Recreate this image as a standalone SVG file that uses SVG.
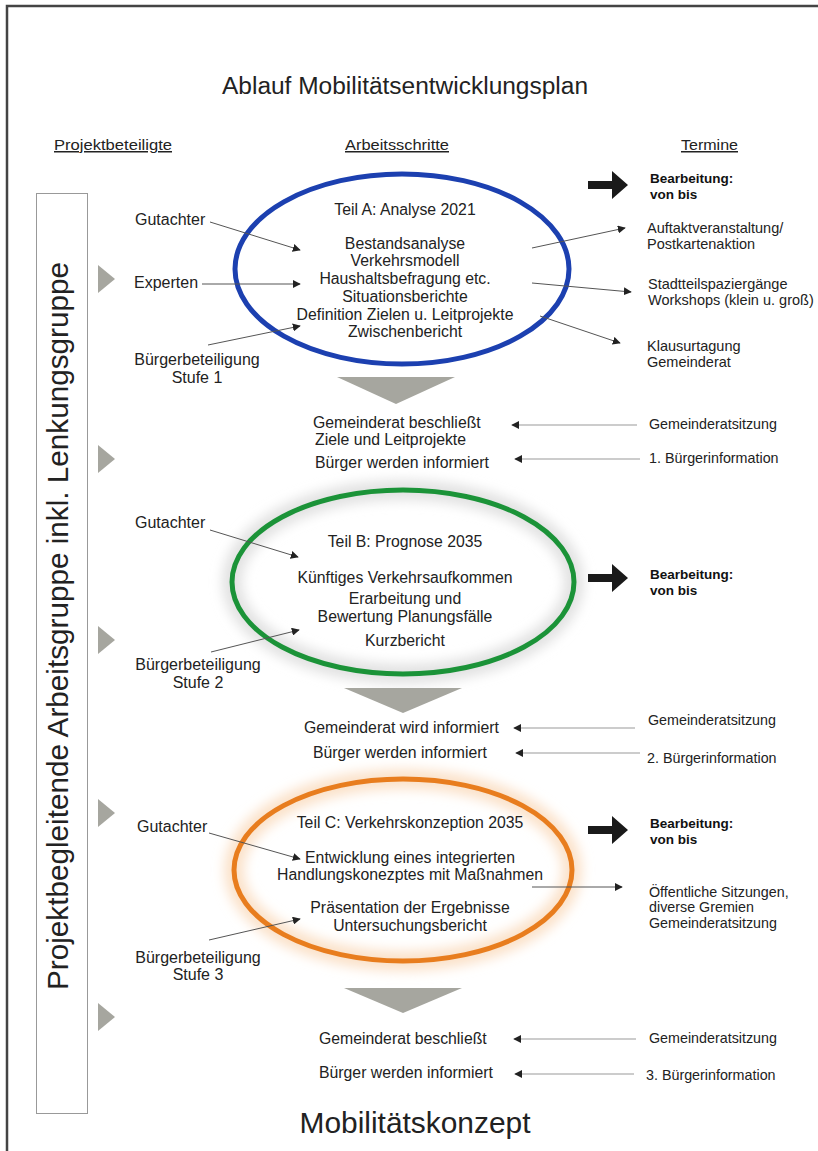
<svg xmlns="http://www.w3.org/2000/svg" width="818" height="1151" viewBox="0 0 818 1151">
<style>
text{font-family:"Liberation Sans",Arial,sans-serif;fill:#222}
.b{font-size:15.8px}
.l{font-size:16px}
.r{font-size:14.5px}
.s{font-size:14.3px}
.bold{font-size:13.5px;font-weight:bold;fill:#111}
.h{font-size:15px;text-decoration:underline}
.c{text-anchor:middle}
.ln{stroke:#555;stroke-width:1;fill:none}
.lg{stroke:#999;stroke-width:1.2;fill:none}
.tri{fill:#a6a69f}
.big{fill:#1a1a1a}
</style>
<defs>
<marker id="ah" viewBox="0 0 10 10" refX="9" refY="5" markerWidth="8" markerHeight="8" markerUnits="userSpaceOnUse" orient="auto">
<path d="M0,0 L10,5 L0,10 Z" fill="#222"/>
</marker>
<filter id="blur" x="-20%" y="-30%" width="140%" height="160%"><feGaussianBlur stdDeviation="6"/></filter>
</defs>

<rect width="818" height="1151" fill="#fff"/>
<path d="M7,1151 L7,6 L818,6" fill="none" stroke="#444" stroke-width="2.5"/>

<text x="405" y="94" class="c" font-size="23" textLength="366" lengthAdjust="spacingAndGlyphs">Ablauf Mobilitätsentwicklungsplan</text>

<g id="headers">
<text x="54" y="150" class="h" textLength="118" lengthAdjust="spacingAndGlyphs">Projektbeteiligte</text>
<text x="345" y="150" class="h" textLength="104" lengthAdjust="spacingAndGlyphs">Arbeitsschritte</text>
<text x="681" y="150" class="h" textLength="57" lengthAdjust="spacingAndGlyphs">Termine</text>
</g>

<g id="lenkungsgruppe">
<rect x="36.5" y="193.5" width="51" height="920" fill="#fff" stroke="#999" stroke-width="1"/>
<text transform="translate(68,626) rotate(-90)" class="c" font-size="29.5" textLength="728" lengthAdjust="spacingAndGlyphs">Projektbegleitende Arbeitsgruppe inkl. Lenkungsgruppe</text>
</g>

<g id="side-triangles">
<path class="tri" d="M98,265 L115,279 L98,293 Z"/>
<path class="tri" d="M98,445 L115,459 L98,473 Z"/>
<path class="tri" d="M98,626 L115,640 L98,654 Z"/>
<path class="tri" d="M98,799 L115,813 L98,827 Z"/>
<path class="tri" d="M98,1003 L115,1017 L98,1031 Z"/>
</g>

<g id="teilA">
<ellipse cx="402" cy="269" rx="167" ry="95" fill="none" stroke="#1c40b0" stroke-width="5"/>
<text x="405" y="215" class="b c">Teil A: Analyse 2021</text>
<text x="405" y="249" class="b c">Bestandsanalyse</text>
<text x="405" y="266" class="b c">Verkehrsmodell</text>
<text x="405" y="284" class="b c">Haushaltsbefragung etc.</text>
<text x="405" y="302" class="b c">Situationsberichte</text>
<text x="405" y="320" class="b c">Definition Zielen u. Leitprojekte</text>
<text x="405" y="337" class="b c">Zwischenbericht</text>
</g>

<g id="participantsA">
<text x="135" y="225" class="l">Gutachter</text>
<text x="134" y="288" class="l">Experten</text>
<text x="197" y="365" class="l c">Bürgerbeteiligung</text>
<text x="197" y="383" class="l c">Stufe 1</text>
</g>

<g id="termineA">
<path class="big" d="M588,181 L612,181 L612,171 L628,185 L612,199 L612,189 L588,189 Z"/>
<text x="650" y="183" class="bold">Bearbeitung:</text>
<text x="650" y="199" class="bold">von bis</text>
<text x="647" y="233" class="r">Auftaktveranstaltung/</text>
<text x="647" y="249" class="r">Postkartenaktion</text>
<text x="648" y="289" class="r">Stadtteilspaziergänge</text>
<text x="648" y="305" class="r">Workshops (klein u. groß)</text>
<text x="647" y="351" class="r">Klausurtagung</text>
<text x="647" y="367" class="r">Gemeinderat</text>
</g>

<g id="stepA">
<path class="tri" d="M337,377 L455,377 L396,404 Z"/>
<text x="313" y="428" class="b">Gemeinderat beschließt</text>
<text x="315" y="445" class="b">Ziele und Leitprojekte</text>
<text x="315" y="468" class="b">Bürger werden informiert</text>
<text x="649" y="429" class="s">Gemeinderatsitzung</text>
<text x="649" y="463" class="s">1. Bürgerinformation</text>
</g>

<g id="teilB">
<ellipse cx="403" cy="582" rx="171" ry="92" fill="none" stroke="#e2e2e2" stroke-width="20" filter="url(#blur)"/>
<ellipse cx="403" cy="582" rx="171" ry="92" fill="none" stroke="#1b9338" stroke-width="5"/>
<text x="405" y="547" class="b c">Teil B: Prognose 2035</text>
<text x="405" y="583" class="b c">Künftiges Verkehrsaufkommen</text>
<text x="405" y="604" class="b c">Erarbeitung und</text>
<text x="405" y="622" class="b c">Bewertung Planungsfälle</text>
<text x="405" y="646" class="b c">Kurzbericht</text>
</g>

<g id="participantsB">
<text x="135" y="528" class="l">Gutachter</text>
<text x="198" y="670" class="l c">Bürgerbeteiligung</text>
<text x="198" y="688" class="l c">Stufe 2</text>
</g>

<g id="termineB">
<path class="big" d="M588,574 L612,574 L612,564 L628,578 L612,592 L612,582 L588,582 Z"/>
<text x="650" y="579" class="bold">Bearbeitung:</text>
<text x="650" y="595" class="bold">von bis</text>
</g>

<g id="stepB">
<path class="tri" d="M344,688 L462,688 L403,713 Z"/>
<text x="304" y="733" class="b">Gemeinderat wird informiert</text>
<text x="313" y="758" class="b">Bürger werden informiert</text>
<text x="648" y="725" class="s">Gemeinderatsitzung</text>
<text x="647" y="763" class="s">2. Bürgerinformation</text>
</g>

<g id="teilC">
<ellipse cx="403" cy="870" rx="169" ry="91" fill="none" stroke="#fbe2ca" stroke-width="20" filter="url(#blur)"/>
<ellipse cx="403" cy="870" rx="169" ry="91" fill="none" stroke="#e87d1e" stroke-width="5"/>
<text x="410" y="828" class="b c">Teil C: Verkehrskonzeption 2035</text>
<text x="410" y="863" class="b c">Entwicklung eines integrierten</text>
<text x="410" y="880" class="b c">Handlungskonezptes mit Maßnahmen</text>
<text x="410" y="913" class="b c">Präsentation der Ergebnisse</text>
<text x="410" y="931" class="b c">Untersuchungsbericht</text>
</g>

<g id="participantsC">
<text x="137" y="832" class="l">Gutachter</text>
<text x="198" y="963" class="l c">Bürgerbeteiligung</text>
<text x="198" y="980" class="l c">Stufe 3</text>
</g>

<g id="termineC">
<path class="big" d="M588,826 L612,826 L612,816 L628,830 L612,844 L612,834 L588,834 Z"/>
<text x="650" y="828" class="bold">Bearbeitung:</text>
<text x="650" y="844" class="bold">von bis</text>
<text x="649" y="897" class="s">Öffentliche Sitzungen,</text>
<text x="649" y="912" class="s">diverse Gremien</text>
<text x="649" y="928" class="s">Gemeinderatsitzung</text>
</g>

<g id="stepC">
<path class="tri" d="M344,988 L462,988 L403,1013 Z"/>
<text x="319" y="1044" class="b">Gemeinderat beschließt</text>
<text x="319" y="1078" class="b">Bürger werden informiert</text>
<text x="649" y="1043" class="s">Gemeinderatsitzung</text>
<text x="646" y="1080" class="s">3. Bürgerinformation</text>
</g>

<text x="415" y="1133" class="c" font-size="29" textLength="231" lengthAdjust="spacingAndGlyphs">Mobilitätskonzept</text>

<g id="connectors">
<path class="ln" d="M210,222 L300,250" marker-end="url(#ah)"/>
<path class="ln" d="M202,284 L300,284" marker-end="url(#ah)"/>
<path class="ln" d="M208,345 L300,326" marker-end="url(#ah)"/>
<path class="ln" d="M532,248 L625,228" marker-end="url(#ah)"/>
<path class="ln" d="M532,283 L631,292" marker-end="url(#ah)"/>
<path class="ln" d="M540,316 L620,343" marker-end="url(#ah)"/>
<path class="lg" d="M637,425 L512,425" marker-end="url(#ah)"/>
<path class="lg" d="M640,459 L515,459" marker-end="url(#ah)"/>
<path class="ln" d="M210,530 L298,557" marker-end="url(#ah)"/>
<path class="ln" d="M211,652 L299,630" marker-end="url(#ah)"/>
<path class="lg" d="M635,728 L514,728" marker-end="url(#ah)"/>
<path class="lg" d="M640,753 L516,753" marker-end="url(#ah)"/>
<path class="ln" d="M209,833 L300,859" marker-end="url(#ah)"/>
<path class="ln" d="M209,940 L300,919" marker-end="url(#ah)"/>
<path class="ln" d="M532,887 L622,887" marker-end="url(#ah)"/>
<path class="lg" d="M636,1039 L514,1039" marker-end="url(#ah)"/>
<path class="lg" d="M634,1074 L515,1074" marker-end="url(#ah)"/>
</g>
</svg>
